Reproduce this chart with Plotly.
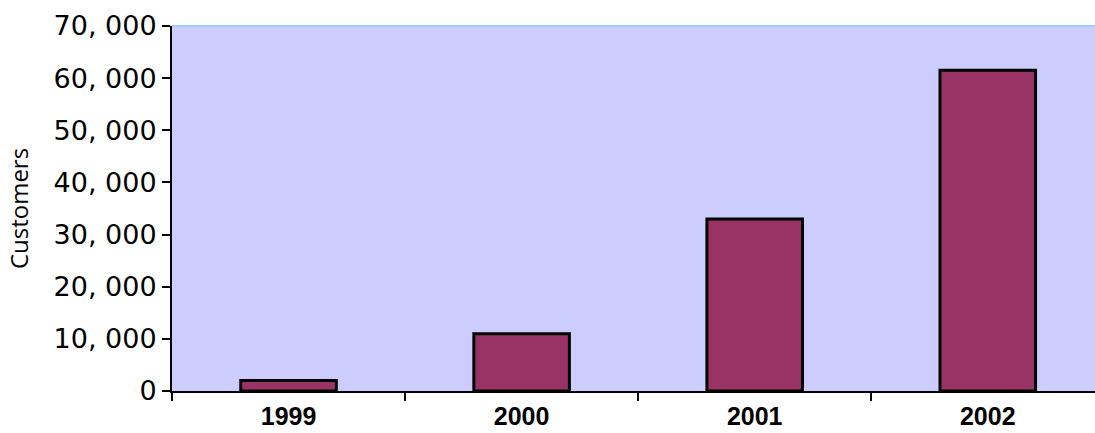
import plotly.graph_objects as go

years = ["1999", "2000", "2001", "2002"]
customers = [2000, 11000, 33000, 61500]

y_ticks = [0, 10000, 20000, 30000, 40000, 50000, 60000, 70000]
y_tick_text = ["0", "10, 000", "20, 000", "30, 000", "40, 000", "50, 000", "60, 000", "70, 000"]

fig = go.Figure(
    go.Bar(
        x=years,
        y=customers,
        marker=dict(color="#993366", line=dict(color="#000000", width=3)),
        width=0.41,
    )
)

fig.update_layout(
    width=1095,
    height=433,
    margin=dict(l=172, r=0, t=26, b=42),
    paper_bgcolor="#FFFFFF",
    plot_bgcolor="#CCCCFF",
    showlegend=False,
    shapes=[
        dict(type="line", xref="paper", yref="paper", x0=0, x1=1, y0=1, y1=1,
             line=dict(color="#99CCFF", width=2))
    ],
)

fig.update_xaxes(
    range=[-0.5, 3.46],
    automargin=False,
    showline=True,
    linecolor="#000000",
    linewidth=2,
    ticks="outside",
    tickson="boundaries",
    ticklen=8,
    tickwidth=2,
    tickcolor="#000000",
    showgrid=False,
    tickfont=dict(family="Liberation Sans, Arial, sans-serif", size=25, color="#000000", weight="bold"),
    ticklabelstandoff=2,
)

fig.update_yaxes(
    range=[0, 70000],
    automargin=False,
    tickvals=y_ticks,
    ticktext=y_tick_text,
    showline=True,
    linecolor="#000000",
    linewidth=2,
    ticks="outside",
    ticklen=8,
    tickwidth=2,
    tickcolor="#000000",
    showgrid=False,
    zeroline=False,
    tickfont=dict(family="DejaVu Sans, Verdana, sans-serif", size=27, color="#000000"),
    title=dict(text="Customers", font=dict(family="Open Sans, sans-serif", size=24, color="#000000"), standoff=18),
)

fig.write_html("out.html")
